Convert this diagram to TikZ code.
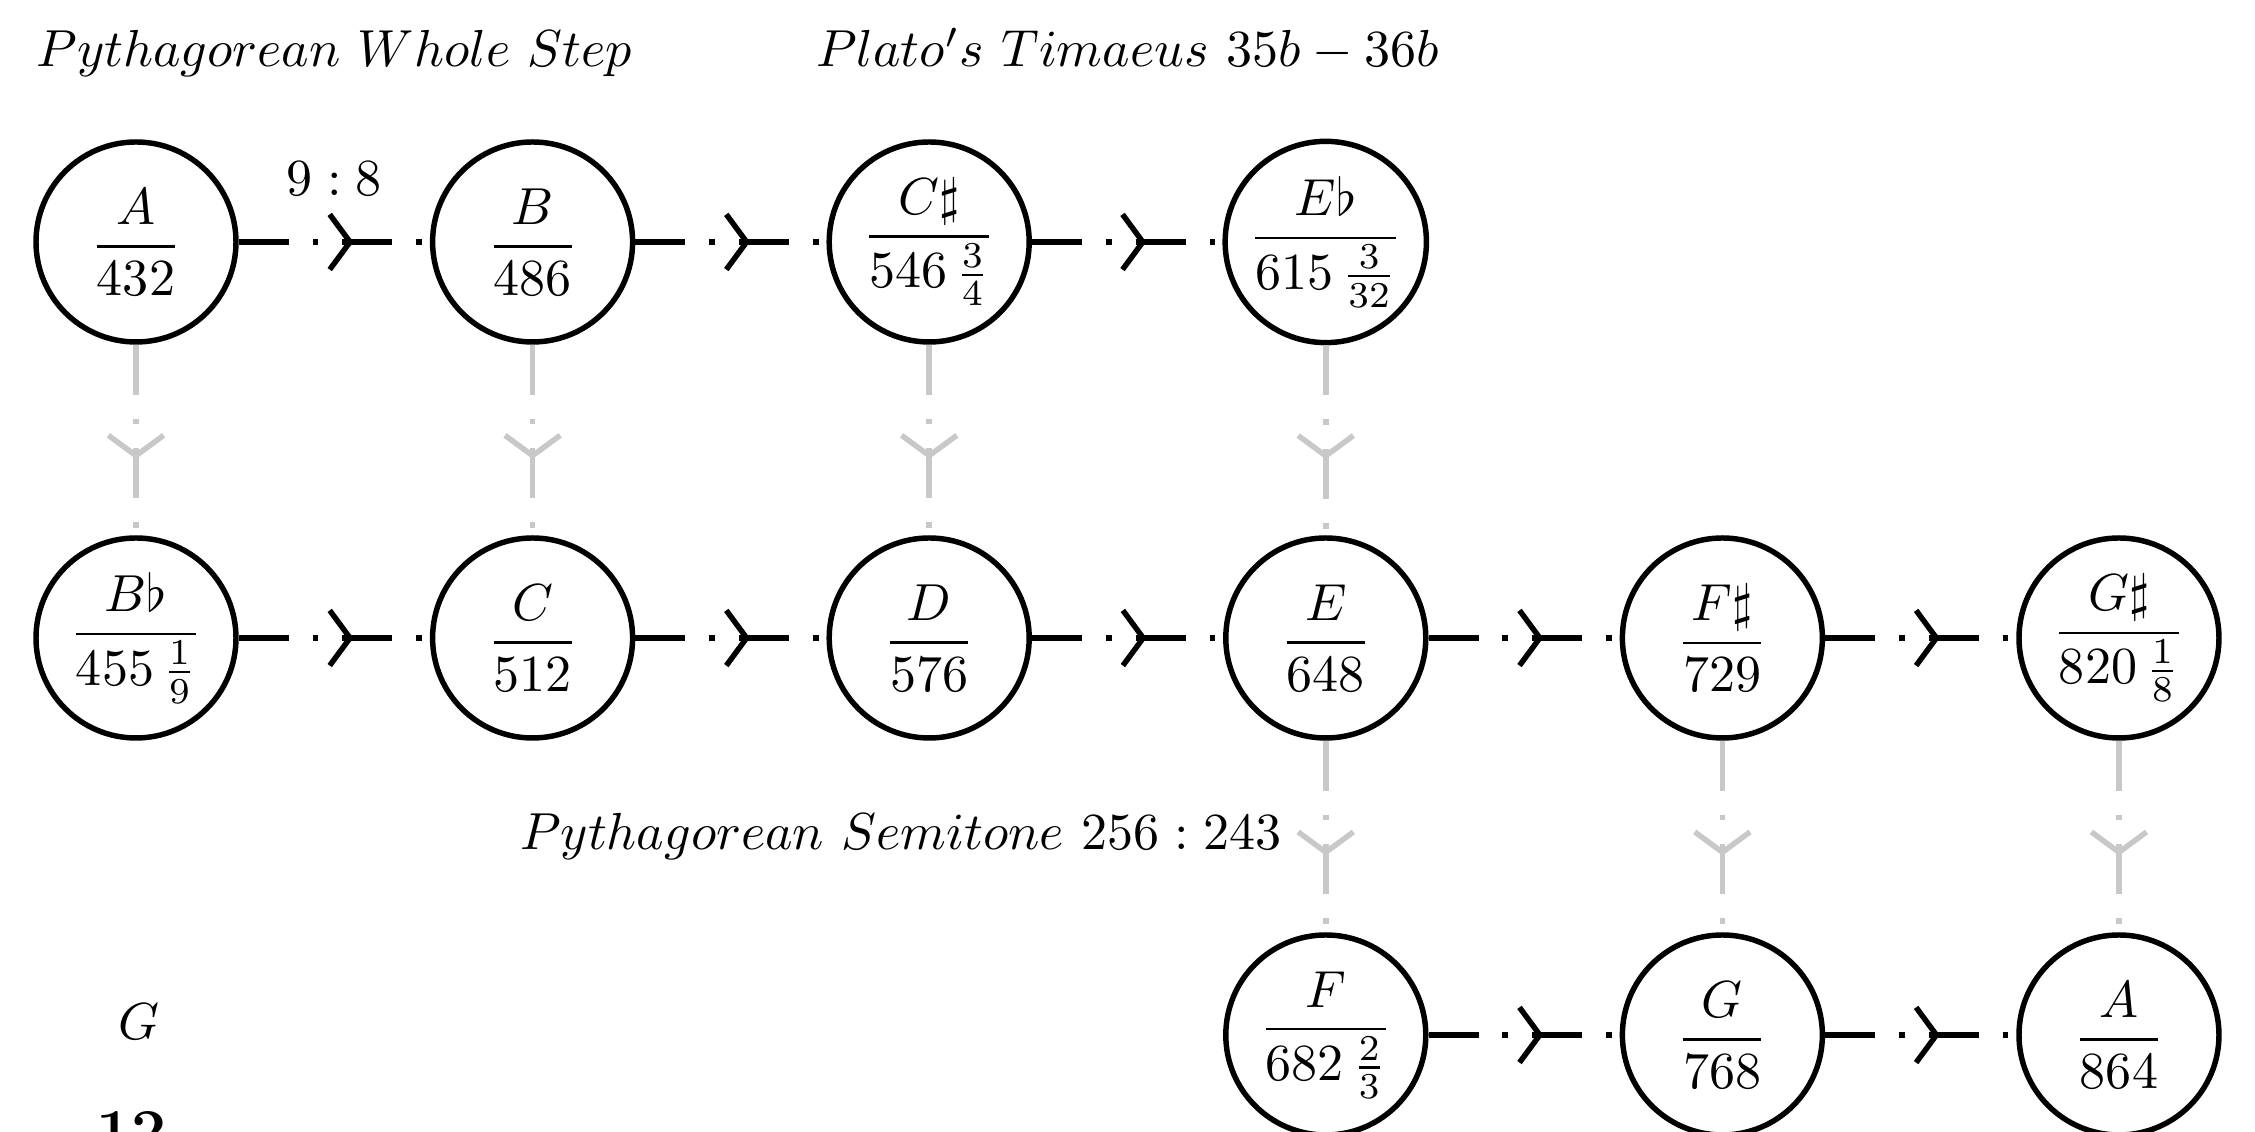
\documentclass[tikz,border=0pt]{standalone}
\usepackage{amsmath}
\usetikzlibrary{arrows.meta,decorations.markings}
\definecolor{conngray}{RGB}{200,200,200}
\begin{document}
\begin{tikzpicture}[x=0.192pt,y=-0.192pt,
  note/.style={circle,draw,line width=1.05pt,minimum size=38.4pt,inner sep=0pt},
  conn/.style={line width=1.05pt,
    dash pattern=on 9.6pt off 4.6pt on 1.1pt off 4.6pt,
    postaction={decorate},
    decoration={markings,
      mark=at position 0.6 with {\arrow{Straight Barb[length=3.9pt,width=10.6pt]}}}},
  hconn/.style={conn,draw=black},
  vconn/.style={conn,draw=conngray}]
\useasboundingbox (0,0) rectangle (2255,1132);
% titles
\node[anchor=base] (t1) at (334.3,67) {$Pythagorean\ Whole\ Step$};
\node[anchor=base] (t2) at (1127.5,67) {$Plato's\ Timaeus\ 35b-36b$};
% row 1
\node[note] (A1) at (136,242) {$\dfrac{A}{432}$};
\node[note] (B1) at (532.6,242) {$\dfrac{B}{486}$};
\node[note] (C1) at (929.2,242) {$\dfrac{C\sharp}{546\,\frac{3}{4}}$};
\node[note] (E1) at (1325.8,242) {$\dfrac{E\flat}{615\,\frac{3}{32}}$};
% row 2
\node[note] (B2) at (136,638) {$\dfrac{B\flat}{455\,\frac{1}{9}}$};
\node[note] (C2) at (532.6,638) {$\dfrac{C}{512}$};
\node[note] (D2) at (929.2,638) {$\dfrac{D}{576}$};
\node[note] (E2) at (1325.8,638) {$\dfrac{E}{648}$};
\node[note] (F2) at (1722.4,638) {$\dfrac{F\sharp}{729}$};
\node[note] (G2) at (2119,638) {$\dfrac{G\sharp}{820\,\frac{1}{8}}$};
% row 3
\node[note] (F3) at (1325.8,1035) {$\dfrac{F}{682\,\frac{2}{3}}$};
\node[note] (G3) at (1722.4,1035) {$\dfrac{G}{768}$};
\node[note] (A3) at (2119,1035) {$\dfrac{A}{864}$};
% stray texts
\node[anchor=base] (g) at (139,1040) {$G$};
\node[anchor=base] (twelve) at (131.5,1153) {\large\bfseries 12};
% horizontal connectors
\draw[hconn] (A1) -- node[above=5.1pt]{$9:8$} (B1);
\draw[hconn] (B1) -- (C1);
\draw[hconn] (C1) -- (E1);
\draw[hconn] (B2) -- (C2);
\draw[hconn] (C2) -- (D2);
\draw[hconn] (D2) -- (E2);
\draw[hconn] (E2) -- (F2);
\draw[hconn] (F2) -- (G2);
\draw[hconn] (F3) -- (G3);
\draw[hconn] (G3) -- (A3);
% vertical connectors
\draw[vconn] (A1) -- (B2);
\draw[vconn] (B1) -- (C2);
\draw[vconn] (C1) -- (D2);
\draw[vconn] (E1) -- (E2);
\draw[vconn] (E2) -- node[left=4.7pt,text=black]{$Pythagorean\ Semitone\ 256:243$} (F3);
\draw[vconn] (F2) -- (G3);
\draw[vconn] (G2) -- (A3);
\end{tikzpicture}
\end{document}
